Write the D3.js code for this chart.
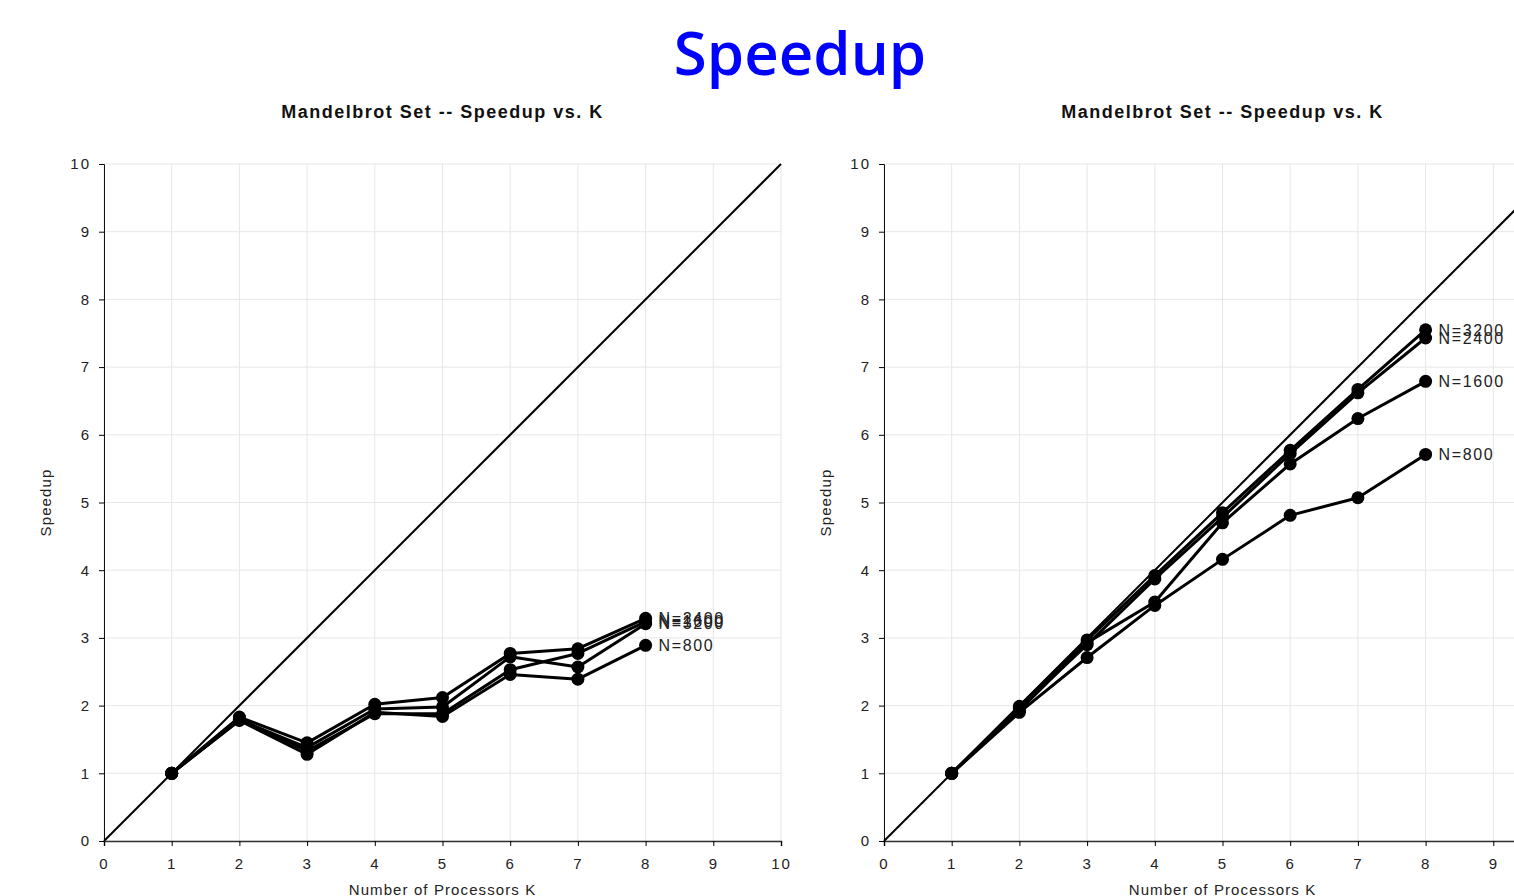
<!DOCTYPE html>
<html>
<head>
<meta charset="utf-8">
<script src="https://cdn.jsdelivr.net/npm/d3@7"></script>
<style>
body { margin: 0; background: #fff; overflow: hidden; }
text { font-family: "Liberation Sans", Arial, sans-serif; }
.tick text { font-size: 15px; fill: #222; letter-spacing: 2px; }
.sub { font-size: 18px; font-weight: bold; fill: #111; letter-spacing: 1.5px; }
.lbl { font-size: 16px; fill: #222; letter-spacing: 1.6px; }
.axlab { font-size: 15px; fill: #222; letter-spacing: 1.1px; }
</style>
</head>
<body>
<script>
var width = 1514, height = 896;

var K = [1, 2, 3, 4, 5, 6, 7, 8];
var names = ["N=800", "N=1600", "N=2400", "N=3200"];

// left panel
var leftN800  = [1, 1.78, 1.28, 1.90, 1.84, 2.46, 2.39, 2.89];
var leftN1600 = [1, 1.80, 1.33, 1.88, 1.88, 2.53, 2.77, 3.24];
var leftN2400 = [1, 1.83, 1.45, 2.02, 2.12, 2.77, 2.84, 3.29];
var leftN3200 = [1, 1.79, 1.38, 1.95, 1.98, 2.72, 2.57, 3.21];

// right panel
var rightN800  = [1, 1.90, 2.71, 3.48, 4.16, 4.81, 5.07, 5.71];
var rightN1600 = [1, 1.93, 2.93, 3.53, 4.70, 5.57, 6.24, 6.79];
var rightN2400 = [1, 1.96, 2.90, 3.87, 4.78, 5.72, 6.62, 7.43];
var rightN3200 = [1, 1.99, 2.97, 3.92, 4.85, 5.77, 6.67, 7.55];

var ticks = [0, 1, 2, 3, 4, 5, 6, 7, 8, 9, 10];

var svg = d3.select("body").append("svg")
    .attr("width", width).attr("height", height);

svg.append("text").attr("x", 800).attr("y", 75)
    .attr("text-anchor", "middle")
    .style("font-family", "'Open Sans', 'Noto Sans', sans-serif")
    .style("font-weight", 600)
    .style("font-size", "60px")
    .attr("fill", "#0000ff")
    .text("Speedup");

function panel(x0, series) {
    var w = 677, h = 677, top = 164;
    var x = d3.scaleLinear().domain([0, 10]).range([0, w]);
    var y = d3.scaleLinear().domain([0, 10]).range([h, 0]);

    var g = svg.append("g").attr("transform", "translate(" + x0 + "," + top + ")");

    g.append("text").attr("class", "sub").attr("x", w / 2).attr("y", -46)
        .attr("text-anchor", "middle").text("Mandelbrot Set -- Speedup vs. K");

    // grid
    g.selectAll(".gx").data(ticks).enter().append("line")
        .attr("x1", d => x(d)).attr("x2", d => x(d)).attr("y1", 0).attr("y2", h)
        .attr("stroke", "#e6e6e6");
    g.selectAll(".gy").data(ticks).enter().append("line")
        .attr("y1", d => y(d)).attr("y2", d => y(d)).attr("x1", 0).attr("x2", w)
        .attr("stroke", "#e6e6e6");

    var xa = g.append("g").attr("transform", "translate(0," + h + ")")
        .call(d3.axisBottom(x).tickValues(ticks).tickSize(5).tickPadding(12));
    xa.select(".domain").attr("stroke", "#333").attr("stroke-width", 1.5);
    var ya = g.append("g")
        .call(d3.axisLeft(y).tickValues(ticks).tickSize(5).tickPadding(8));
    ya.select(".domain").attr("stroke", "#111");
    g.selectAll(".tick text").attr("font-family", null).attr("font-size", null);

    g.append("text").attr("class", "axlab").attr("x", w / 2).attr("y", h + 54)
        .attr("text-anchor", "middle").text("Number of Processors K");
    g.append("text").attr("class", "axlab")
        .attr("transform", "translate(-53," + (h / 2) + ") rotate(-90)")
        .attr("text-anchor", "middle").text("Speedup");

    // ideal line
    g.append("line")
        .attr("x1", x(0)).attr("y1", y(0)).attr("x2", x(10)).attr("y2", y(10))
        .attr("stroke", "#000").attr("stroke-width", 2);

    var line = d3.line().x((d, i) => x(K[i])).y(d => y(d));

    series.forEach(function (s, j) {
        g.append("path").datum(s).attr("d", line)
            .attr("fill", "none").attr("stroke", "#000").attr("stroke-width", 3)
            .attr("stroke-linejoin", "round");
        g.selectAll(".p" + j).data(s).enter().append("circle")
            .attr("cx", (d, i) => x(K[i])).attr("cy", d => y(d)).attr("r", 6.5)
            .attr("fill", "#000");
        g.append("text").attr("class", "lbl")
            .attr("x", x(K[K.length - 1]) + 13).attr("y", y(s[s.length - 1]))
            .attr("dy", "0.36em").text(names[j]);
    });
}

panel(104, [leftN800, leftN1600, leftN2400, leftN3200]);
panel(884, [rightN800, rightN1600, rightN2400, rightN3200]);
</script>
</body>
</html>
